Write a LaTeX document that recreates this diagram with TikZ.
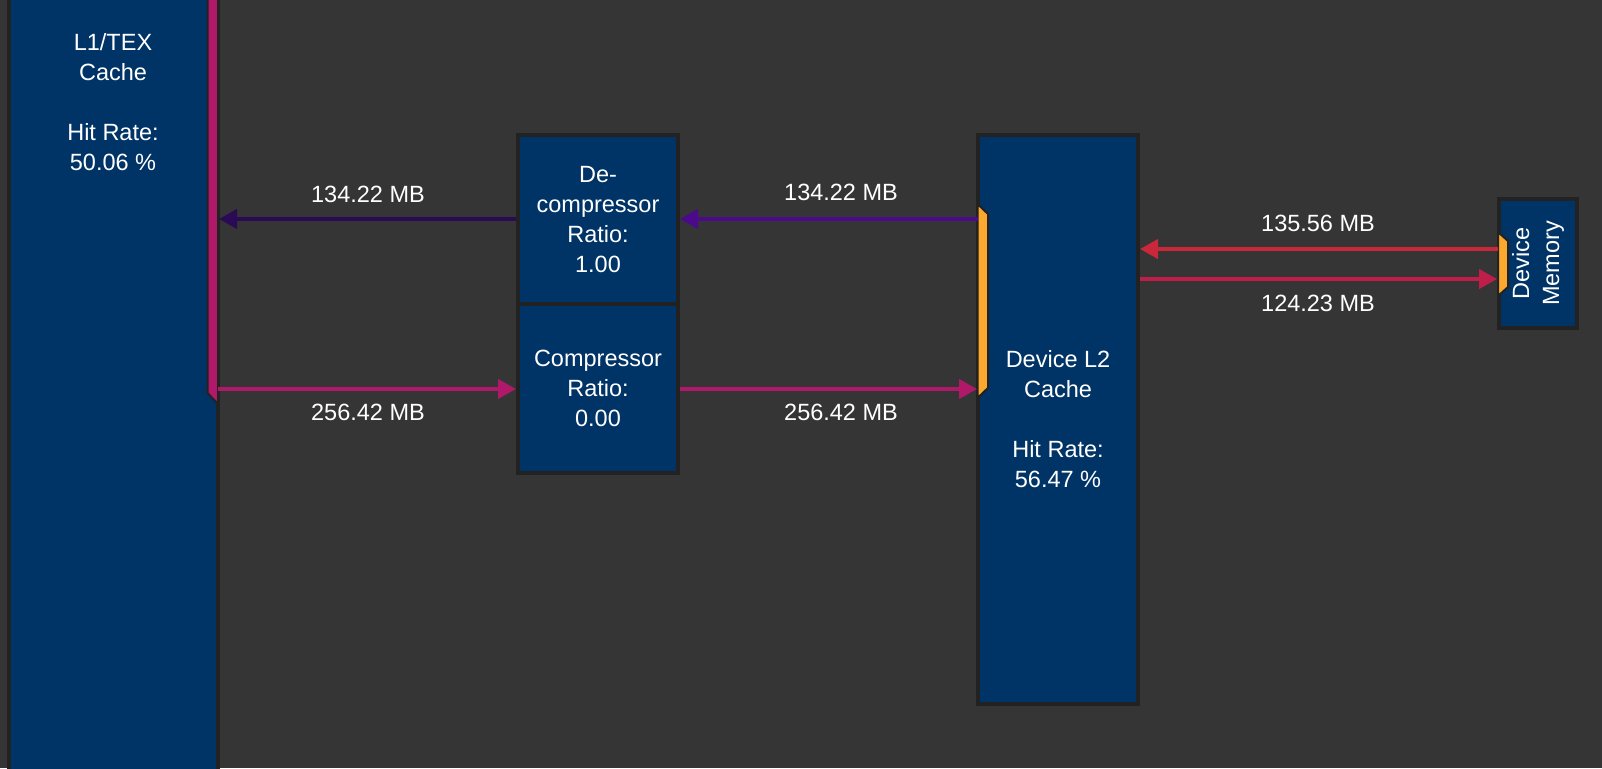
\documentclass[tikz,border=0pt]{standalone}
\usepackage{fontspec}
\setmainfont{Liberation Sans}
\usetikzlibrary{arrows.meta}
\definecolor{bg}{HTML}{353535}
\definecolor{boxblue}{HTML}{003366}
\definecolor{bord}{HTML}{222222}
\definecolor{portor}{HTML}{FBA82E}
\definecolor{mag}{HTML}{B0186A}
\definecolor{purp}{HTML}{4B0A8C}
\definecolor{dpurp}{HTML}{2A0A55}
\definecolor{redA}{HTML}{C8283A}
\definecolor{redB}{HTML}{C01E4A}
\begin{document}
\begin{tikzpicture}[x=1pt,y=-1pt,
  txt/.style={text=white, align=center, inner sep=0pt, font=\fontsize{23.5}{30}\selectfont},
  unit/.style={draw=bord, fill=boxblue, line width=4pt, inner sep=0pt, txt},
  portshape/.style={fill=portor, draw=bord, line width=2pt, line join=miter},
  flow/.style={line width=4pt, -{Triangle[length=18pt,width=19pt]}}
]
\fill[bg] (0,0) rectangle (1602,768);
\useasboundingbox (0,0) rectangle (1602,768);
\clip (0,0) rectangle (1602,768);

% boxes
\node[unit, minimum width=209pt, minimum height=820pt] (l1) at (113.5,384) {};
\node[txt] (l1txt) at (113,102) {L1/TEX\\Cache\\[30pt]Hit Rate:\\50.06 \%};
\node[unit, minimum width=160pt, minimum height=169pt] (dec) at (598,219.5) {De-\\compressor\\Ratio:\\1.00};
\node[unit, minimum width=160pt, minimum height=169pt] (comp) at (598,388.5) {Compressor\\Ratio:\\0.00};
\node[unit, minimum width=160pt, minimum height=569pt] (l2) at (1058,419.5) {Device L2\\Cache\\[30pt]Hit Rate:\\56.47 \%};
\node[unit, minimum width=78pt, minimum height=129pt] (mem) at (1538,263.5) {};
\node[txt, rotate=90] (memtxt) at (mem.center) {Device\\Memory};

% ports
\draw[portshape, fill=mag] (218,-10) -- (218,404) -- (207.5,393) -- (207.5,-10) -- cycle;
\draw[portshape] (977.5,204) -- (988,214) -- (988,388) -- (977.5,398) -- cycle;
\draw[portshape] (1498,232) -- (1508,241) -- (1508,287) -- (1498,296) -- cycle;

\coordinate (l1out) at (218,389);
\coordinate (l1in) at (219,219);
\coordinate (l2in) at (977,389);
\coordinate (l2out) at (978,219);
\coordinate (memout) at (1498,249);
\coordinate (memin) at (1497,279);

% connectors
\draw[flow, purp] (l2out) -- (l2out -| dec.east);
\draw[flow, dpurp] (dec.west |- l1in) -- (l1in);
\draw[flow, mag] (l1out) -- (l1out -| comp.west);
\draw[flow, mag] (comp.east |- l2in) -- (l2in);
\draw[flow, redA] (memout) -- (memout -| l2.east);
\draw[flow, redB] (l2.east |- memin) -- (memin);

% labels
\node[txt] (la) at (368,194) {134.22 MB};
\node[txt] (lb) at (841,192) {134.22 MB};
\node[txt] (lc) at (368,412) {256.42 MB};
\node[txt] (ld) at (841,412) {256.42 MB};
\node[txt] (le) at (1318,223) {135.56 MB};
\node[txt] (lf) at (1318,303) {124.23 MB};
\end{tikzpicture}
\end{document}
